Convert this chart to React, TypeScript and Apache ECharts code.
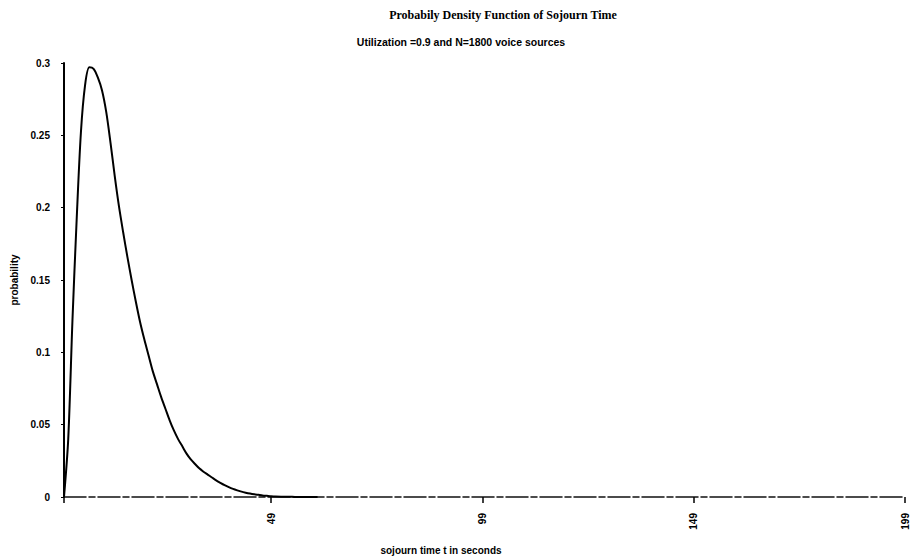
import React, { useEffect, useRef } from "react";
import * as echarts from "echarts";

const titleText = "Probabily Density Function of Sojourn Time";
const subtitleText = "Utilization =0.9 and N=1800 voice sources";
const xAxisName = "sojourn time t in seconds";
const yAxisName = "probability";

const timeValues = [
  0, 1, 2, 3, 4, 5, 6, 7, 8, 9, 10, 11, 12, 13, 14, 15, 16, 17, 18, 19, 20,
  21, 22, 23, 24, 25, 26, 27, 28, 29, 30, 31, 32, 33, 34, 35, 36, 37, 38, 39,
  40, 41, 42, 43, 44, 45, 46, 47, 48, 49, 50, 52, 54, 56, 58, 60,
];
const densityValues = [
  0.0, 0.04, 0.122, 0.192, 0.252, 0.285, 0.297, 0.296, 0.29, 0.281, 0.266,
  0.245, 0.222, 0.201, 0.183, 0.166, 0.15, 0.135, 0.121, 0.109, 0.098, 0.087,
  0.078, 0.069, 0.061, 0.053, 0.046, 0.04, 0.035, 0.03, 0.026, 0.0228, 0.0198,
  0.0175, 0.0155, 0.0135, 0.0115, 0.0098, 0.0082, 0.0068, 0.0056, 0.0046,
  0.0037, 0.003, 0.0024, 0.0019, 0.0015, 0.0011, 0.0008, 0.0005, 0.0003,
  0.0002, 0.0001, 0, 0, 0,
];
const xTickValues = [0, 49, 99, 149, 199];
const xLabelValues = [49, 99, 149, 199];

export default function App() {
  const ref = useRef<HTMLDivElement>(null);
  useEffect(() => {
    document.body.style.margin = "0";
    if (!ref.current) return;
    const chart = echarts.init(ref.current, null, { renderer: "svg" });
    const data = timeValues.map((t, i) => [t, densityValues[i]]);
    chart.setOption({
      animation: false,
      backgroundColor: "#ffffff",
      grid: { left: 64, right: 4, top: 63, bottom: 62 },
      xAxis: {
        type: "value",
        min: 0,
        max: 199,
        splitLine: { show: false },
        axisLine: {
          show: true,
          onZero: false,
          lineStyle: { color: "#111", width: 1.5, type: [22, 3, 6, 3] },
        },
        axisTick: {
          show: true,
          customValues: xTickValues,
          length: 6,
          lineStyle: { color: "#000", width: 1.5 },
        },
        axisLabel: {
          customValues: xLabelValues,
          rotate: 90,
          margin: 16,
          color: "#000",
          fontFamily: "Arial, Liberation Sans, sans-serif",
          fontWeight: "bold",
          fontSize: 10,
        },
      },
      yAxis: {
        type: "value",
        min: 0,
        max: 0.3,
        interval: 0.05,
        name: yAxisName,
        nameLocation: "middle",
        nameGap: 42,
        nameRotate: 90,
        nameTextStyle: {
          color: "#000",
          fontFamily: "Arial, Liberation Sans, sans-serif",
          fontWeight: "bold",
          fontSize: 10,
        },
        splitLine: { show: false },
        axisLine: { show: true, lineStyle: { color: "#000", width: 2 } },
        axisTick: { show: true, length: 3, lineStyle: { color: "#000", width: 1 } },
        axisLabel: {
          margin: 14,
          color: "#000",
          fontFamily: "Arial, Liberation Sans, sans-serif",
          fontWeight: "bold",
          fontSize: 10,
        },
      },
      series: [
        {
          type: "line",
          data,
          showSymbol: false,
          smooth: 0.3,
          lineStyle: { color: "#000", width: 2 },
        },
      ],
      graphic: [
        {
          type: "text",
          x: 503,
          y: 15,
          style: {
            text: titleText,
            fill: "#000",
            font: "bold 12px 'Liberation Serif', 'Times New Roman', serif",
            textAlign: "center",
            textVerticalAlign: "middle",
          },
        },
        {
          type: "text",
          x: 461,
          y: 42,
          style: {
            text: subtitleText,
            fill: "#000",
            font: "bold 10.5px 'Liberation Sans', Arial, sans-serif",
            textAlign: "center",
            textVerticalAlign: "middle",
          },
        },
        {
          type: "text",
          x: 441,
          y: 550,
          style: {
            text: xAxisName,
            fill: "#000",
            font: "bold 10px 'Liberation Sans', Arial, sans-serif",
            textAlign: "center",
            textVerticalAlign: "middle",
          },
        },
      ],
    });
    return () => chart.dispose();
  }, []);
  return <div ref={ref} style={{ width: 910, height: 559 }} />;
}
